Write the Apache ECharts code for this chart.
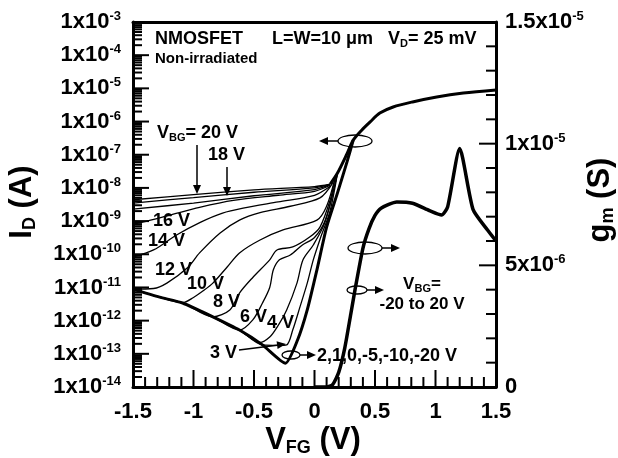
<!DOCTYPE html>
<html>
<head>
<meta charset="utf-8">
<script src="https://cdn.jsdelivr.net/npm/echarts@6/dist/echarts.min.js"></script>
<style>
html, body { margin: 0; padding: 0; background: #fff; }
#chart { width: 618px; height: 458px; }
</style>
</head>
<body>
<div id="chart"></div>
<script>
// drain current I_D (A) vs front gate V_FG (V), one array per back-gate bias
const id20 = [[-1.5, 4.4e-9], [-1.0, 6.3e-9], [-0.5, 8.7e-9], [0.0, 1.1e-8], [0.13, 1.3e-8]]
const id18 = [[-1.5, 3.5e-9], [-1.0, 5.1e-9], [-0.5, 7.4e-9], [0.0, 1.0e-8], [0.13, 1.3e-8]]
const id17 = [[-1.5, 2.3e-9], [-1.0, 3.5e-9], [-0.5, 5.8e-9], [0.0, 8.9e-9], [0.13, 1.25e-8]]
const id16 = [[-1.5, 8.1e-10], [-1.42, 9.3e-10], [-1.2, 1.5e-9], [-0.95, 2.6e-9], [-0.67, 4.2e-9], [-0.3, 6.0e-9], [0.0, 7.9e-9], [0.13, 1.2e-8]]
const id14 = [[-1.5, 8.3e-11], [-1.33, 1.35e-10], [-1.14, 3.8e-10], [-0.94, 9.3e-10], [-0.76, 1.74e-9], [-0.59, 2.45e-9], [-0.3, 3.8e-9], [0.0, 6.0e-9], [0.13, 1.12e-8]]
const id12 = [[-1.5, 8.9e-12], [-1.33, 9.3e-12], [-1.22, 1.35e-11], [-1.05, 3.9e-11], [-0.95, 1.1e-10], [-0.78, 4.4e-10], [-0.62, 1.07e-9], [-0.45, 1.8e-9], [-0.2, 2.8e-9], [0.045, 5.0e-9], [0.15, 1.4e-8]]
const id10 = [[-1.5, 8.9e-12], [-1.28, 5.1e-12], [-1.09, 3.5e-12], [-1.0, 5.0e-12], [-0.92, 7.9e-12], [-0.84, 1.35e-11], [-0.72, 4.2e-11], [-0.62, 1.1e-10], [-0.45, 2.7e-10], [-0.26, 5.4e-10], [0.02, 1.07e-9], [0.1, 2.8e-9], [0.17, 2.0e-8]]
const id8 = [[-1.5, 8.9e-12], [-1.28, 5.1e-12], [-1.09, 3.4e-12], [-0.84, 1.3e-12], [-0.7, 2.1e-12], [-0.62, 6.8e-12], [-0.51, 2.0e-11], [-0.37, 6.8e-11], [-0.31, 1.35e-10], [-0.18, 1.66e-10], [-0.04, 3.3e-10], [0.045, 6.6e-10], [0.13, 4.4e-9], [0.17, 2.0e-8]]
const id6 = [[-1.5, 8.9e-12], [-1.28, 5.1e-12], [-1.09, 3.4e-12], [-0.84, 1.3e-12], [-0.62, 5.2e-13], [-0.51, 1.05e-12], [-0.43, 3.4e-12], [-0.37, 1.0e-11], [-0.34, 3.4e-11], [-0.29, 6.8e-11], [-0.2, 9.5e-11], [-0.1, 1.9e-10], [0.0, 3.2e-10], [0.09, 1.1e-9], [0.19, 2.8e-8]]
const id4 = [[-1.5, 8.9e-12], [-1.28, 5.1e-12], [-1.09, 3.4e-12], [-0.84, 1.3e-12], [-0.62, 5.2e-13], [-0.45, 2.2e-13], [-0.37, 3.2e-13], [-0.31, 6.3e-13], [-0.23, 2.1e-12], [-0.145, 1.35e-11], [-0.095, 6.8e-11], [-0.01, 1.9e-10], [0.087, 9.3e-10], [0.19, 2.8e-8]]
const id3 = [[-1.5, 8.9e-12], [-1.28, 5.1e-12], [-1.09, 3.4e-12], [-0.84, 1.3e-12], [-0.62, 5.2e-13], [-0.43, 1.86e-13], [-0.3, 1.8e-13], [-0.23, 1.86e-13], [-0.18, 5.2e-13], [-0.12, 2.6e-12], [-0.06, 1.35e-11], [-0.01, 6.8e-11], [0.045, 2.8e-10], [0.128, 2.0e-9], [0.19, 2.8e-8]]
// V_BG = 2, 1, 0, -5, -10, -20 V all fall on one curve
const idLow = [[-1.5, 8.9e-12], [-1.28, 5.1e-12], [-1.09, 3.4e-12], [-0.84, 1.3e-12], [-0.62, 5.2e-13], [-0.43, 1.86e-13], [-0.24, 5.2e-14], [-0.14, 2.6e-13], [-0.06, 2.1e-12], [0.02, 3.4e-11], [0.1, 6.6e-10], [0.19, 7.1e-9], [0.27, 6.3e-8], [0.32, 2.75e-7]]
// above threshold every curve merges
const idOn = [[0.13, 1.3e-8], [0.19, 2.8e-8], [0.27, 1.1e-7], [0.32, 2.75e-7], [0.39, 5.5e-7], [0.46, 9.8e-7], [0.54, 1.8e-6], [0.65, 2.75e-6], [0.81, 3.9e-6], [1.01, 5.5e-6], [1.23, 7.2e-6], [1.5, 8.9e-6]]

// transconductance g_m (S), right axis
const gm = [[0.0, 0], [0.1, 0], [0.15, 1.0e-7], [0.2, 6.0e-7], [0.25, 1.6e-6], [0.3, 3.0e-6], [0.335, 4.0e-6], [0.4, 5.7e-6], [0.45, 6.5e-6], [0.5, 7.05e-6], [0.55, 7.35e-6], [0.68, 7.6e-6], [0.81, 7.55e-6], [0.95, 7.25e-6], [1.05, 7.07e-6], [1.1, 7.4e-6], [1.2, 9.8e-6], [1.31, 7.3e-6], [1.43, 6.45e-6], [1.5, 6.0e-6]]

const thinCurves = [id20, id18, id17, id16, id14, id12, id10, id8, id6, id4, id3]

// tick marks: [x, y, length] for the front-gate axis, the log axis and the g_m axis
const xTicks = []
for (let i = -15; i <= 15; i++) xTicks.push([i / 10, i % 5 === 0 ? 17 : 10])
const logTicks = []
for (let e = -14; e <= -3; e++) {
  for (let k = 1; k <= 9; k++) {
    if (e === -3 && k > 1) break
    logTicks.push([k * Math.pow(10, e), k === 1 ? 16 : 9])
  }
}
const gmTicks = []
for (let i = 0; i <= 15; i++) gmTicks.push([i * 1e-6, i % 5 === 0 ? 17 : 10])

const FONT = '"Liberation Sans", Arial, Helvetica, sans-serif'
const tickRich = {
  b: { fontSize: 22, fontWeight: 'bold', fontFamily: FONT, color: '#000' },
  s: { fontSize: 13, fontWeight: 'bold', fontFamily: FONT, color: '#000', verticalAlign: 'bottom', padding: [0, 0, 11, 0] }
}

const chart = echarts.init(document.getElementById('chart'))

const richStyle = (size, sub) => ({
  a: { fontSize: size, fontWeight: 'bold', fontFamily: FONT, fill: '#000' },
  b: { fontSize: sub, fontWeight: 'bold', fontFamily: FONT, fill: '#000', verticalAlign: 'top', padding: [Math.round(size * 0.55), 0, 0, 0] }
})

const label = (x, y, text, size, align) => ({
  type: 'text', x, y, z: 100,
  style: { text, fill: '#000', font: 'bold ' + size + 'px ' + FONT, align: align || 'left', verticalAlign: 'middle' }
})

const richLabel = (x, y, text, size, sub, align, rotation) => ({
  type: 'text', x, y, z: 100, rotation: rotation || 0,
  style: { text, rich: richStyle(size, sub), fill: '#000', font: 'bold ' + size + 'px ' + FONT, align: align || 'left', verticalAlign: 'middle' }
})

const arrow = (x1, y1, x2, y2) => {
  const a = Math.atan2(y2 - y1, x2 - x1)
  const L = 9, W = 4
  const bx = x2 - L * Math.cos(a), by = y2 - L * Math.sin(a)
  const px = -Math.sin(a) * W, py = Math.cos(a) * W
  return [
    { type: 'line', z: 100, shape: { x1, y1, x2: bx, y2: by }, style: { stroke: '#000', lineWidth: 1.5 } },
    { type: 'polygon', z: 100, shape: { points: [[x2, y2], [bx + px, by + py], [bx - px, by - py]] }, style: { fill: '#000' } }
  ]
}

const ellipse = (cx, cy, rx, ry) => ({
  type: 'ellipse', z: 100, shape: { cx, cy, rx, ry }, style: { fill: 'none', stroke: '#000', lineWidth: 1.3 }
})

const series = thinCurves.map((d) => ({
  type: 'line', data: d, xAxisIndex: 0, yAxisIndex: 0,
  showSymbol: false, smooth: 0.3,
  lineStyle: { color: '#000', width: 1.3 }
}))
series.push({
  type: 'line', data: idLow, yAxisIndex: 0, showSymbol: false, smooth: 0.2,
  lineStyle: { color: '#000', width: 3 }
})
series.push({
  type: 'line', data: idOn, yAxisIndex: 0, showSymbol: false, smooth: 0.3,
  lineStyle: { color: '#000', width: 3 }
})
series.push({
  type: 'line', data: gm, yAxisIndex: 1, showSymbol: false, smooth: 0.2,
  lineStyle: { color: '#000', width: 3.5 }
})

// tick marks drawn through the axes' own scales
const tickSeries = (data, yAxisIndex, toPoint, dir) => ({
  type: 'custom', coordinateSystem: 'cartesian2d', xAxisIndex: 0, yAxisIndex,
  data, silent: true, z: 10,
  renderItem: (params, api) => {
    const p = api.coord(toPoint(api.value(0)))
    const len = api.value(1)
    return {
      type: 'line',
      shape: { x1: p[0], y1: p[1], x2: p[0] + dir[0] * len, y2: p[1] + dir[1] * len },
      style: { stroke: '#000', lineWidth: 2 }
    }
  }
})
series.push(tickSeries(xTicks, 1, (v) => [v, 0], [0, -1]))
series.push(tickSeries(logTicks, 0, (v) => [-1.5, v], [1, 0]))
series.push(tickSeries(gmTicks, 1, (v) => [1.5, v], [-1, 0]))

const graphic = [
  label(155, 39, 'NMOSFET', 18),
  label(272, 39, 'L=W=10 μm', 18),
  richLabel(388, 39, '{a|V}{b|D}{a|= 25 mV}', 18, 11),
  label(155, 59, 'Non-irradiated', 15),
  richLabel(157, 133, '{a|V}{b|BG}{a|= 20 V}', 18, 11),
  ...arrow(197, 145, 197, 194),
  label(208, 155, '18 V', 18),
  ...arrow(227, 167, 227, 196),
  label(153, 221, '16 V', 18),
  label(148, 241, '14 V', 18),
  label(155, 270, '12 V', 18),
  label(187, 284, '10 V', 18),
  label(213, 302, '8 V', 18),
  label(240, 317, '6 V', 18),
  label(267, 323, '4 V', 18),
  label(210, 353, '3 V', 18),
  ...arrow(239, 350, 286, 344),
  ellipse(291, 355, 9, 4),
  ...arrow(300, 355, 316, 355),
  label(317, 356, '2,1,0,-5,-10,-20 V', 18),
  ellipse(355, 141, 17, 6),
  ...arrow(338, 141, 319, 141),
  ellipse(365, 248, 17, 6),
  ...arrow(382, 248, 400, 248),
  ellipse(357, 290, 10, 4),
  ...arrow(367, 290, 384, 290),
  richLabel(422, 284, '{a|V}{b|BG}{a|=}', 17, 11, 'center'),
  label(422, 304, '-20 to 20 V', 17, 'center'),
  richLabel(313, 440, '{a|V}{b|FG}{a| (V)}', 31, 18, 'center'),
  richLabel(22, 202, '{a|I}{b|D}{a| (A)}', 31, 18, 'center', Math.PI / 2),
  richLabel(600, 200, '{a|g}{b|m}{a| (S)}', 31, 18, 'center', Math.PI / 2)
]

const frame = { color: '#000', width: 3 }

chart.setOption({
  animation: false,
  grid: { left: 133, right: 122, top: 22, bottom: 71 },
  xAxis: [
    {
      type: 'value', min: -1.5, max: 1.5, interval: 0.5,
      axisLine: { show: true, onZero: false, lineStyle: frame },
      axisTick: { show: false },
      splitLine: { show: false },
      axisLabel: {
        margin: 14, color: '#000', fontSize: 22, fontWeight: 'bold', fontFamily: FONT,
        formatter: (v) => String(Math.round(v * 10) / 10)
      }
    },
    {
      type: 'value', position: 'top', min: -1.5, max: 1.5,
      axisLine: { show: true, onZero: false, lineStyle: frame },
      axisTick: { show: false }, axisLabel: { show: false }, splitLine: { show: false }
    }
  ],
  yAxis: [
    {
      type: 'log', logBase: 10, min: 1e-14, max: 1e-3, interval: 1,
      axisLine: { show: true, onZero: false, lineStyle: frame },
      axisTick: { show: false },
      splitLine: { show: false },
      axisLabel: {
        margin: 12, rich: tickRich,
        formatter: (v) => '{b|1x10}{s|' + Math.round(Math.log10(v)) + '}'
      }
    },
    {
      type: 'value', position: 'right', min: 0, max: 1.5e-5, interval: 5e-6,
      axisLine: { show: true, onZero: false, lineStyle: frame },
      axisTick: { show: false },
      splitLine: { show: false },
      axisLabel: {
        margin: 9, rich: tickRich,
        formatter: (v) => {
          if (v < 1e-12) return '{b|0}'
          const e = Math.floor(Math.log10(v) + 1e-9)
          const m = parseFloat((v / Math.pow(10, e)).toFixed(2))
          return '{b|' + m + 'x10}{s|' + e + '}'
        }
      }
    }
  ],
  series,
  graphic
})
</script>
</body>
</html>
